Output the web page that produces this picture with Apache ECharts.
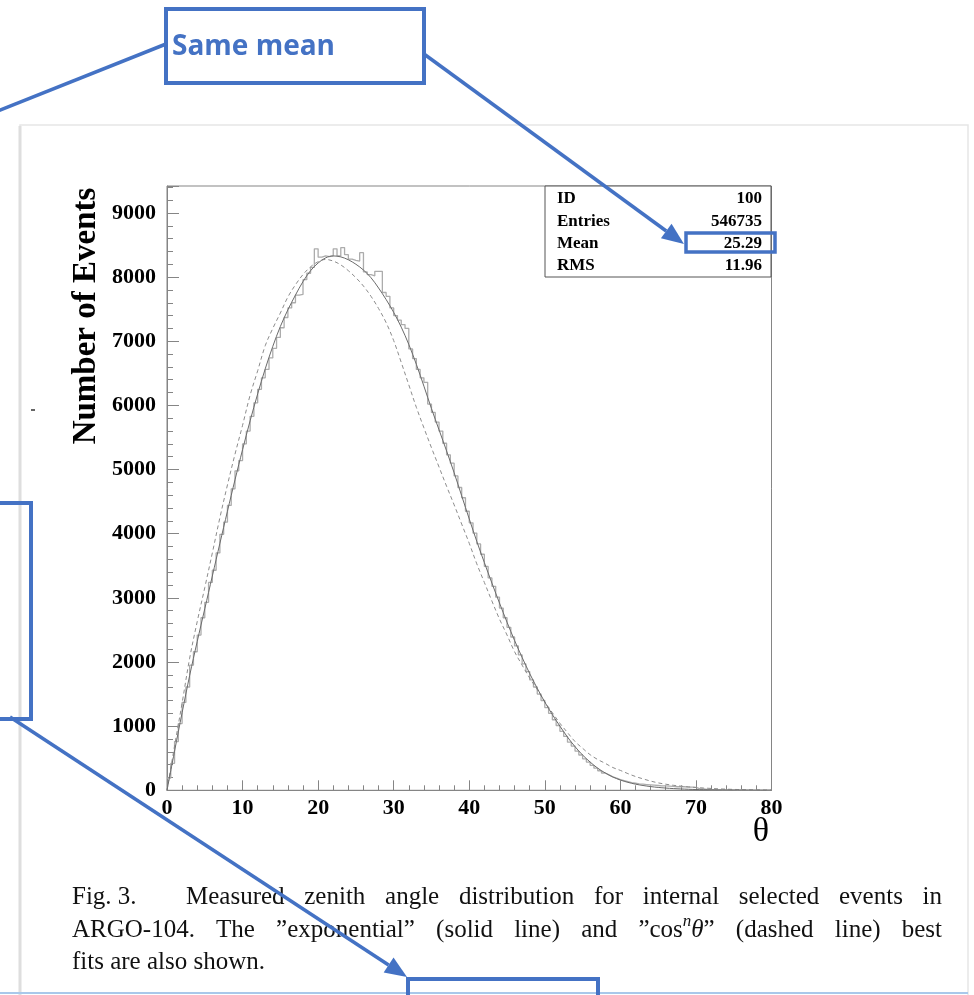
<!DOCTYPE html>
<html>
<head>
<meta charset="utf-8">
<title>Zenith angle distribution</title>
<script src="https://cdn.jsdelivr.net/npm/echarts@6/dist/echarts.min.js"></script>
<style>
  html, body { margin: 0; padding: 0; background: #ffffff; }
  #chart { width: 974px; height: 995px; }
</style>
</head>
<body>
<div id="chart"></div>
<script>
// Zenith angle histogram, 0.5 degree bins from 0 to 80 degrees
const binWidth = 0.5;
const histCounts = [
  190, 420, 760, 1040, 1370, 1610, 1950, 2160, 2420, 2690,
  2930, 3240, 3430, 3700, 3990, 4180, 4440, 4700, 4980, 5140,
  5400, 5600, 5830, 6040, 6250, 6430, 6560, 6740, 6890, 7060,
  7210, 7370, 7520, 7600, 7720, 7730, 7960, 8060, 8150, 8440,
  8310, 8330, 8320, 8330, 8440, 8330, 8460, 8350, 8280, 8260,
  8250, 8380, 8080, 8040, 8020, 8090, 8090, 7760, 7700, 7520,
  7400, 7330, 7260, 7200, 6880, 6730, 6560, 6430, 6360, 6020,
  5890, 5740, 5600, 5410, 5230, 5100, 4900, 4720, 4560, 4350,
  4170, 4010, 3840, 3680, 3490, 3310, 3180, 3010, 2840, 2690,
  2540, 2390, 2250, 2110, 1970, 1850, 1720, 1610, 1500, 1400,
  1290, 1200, 1100, 1010, 920, 840, 750, 690, 610, 550,
  490, 440, 390, 345, 305, 270, 240, 210, 190, 165,
  150, 135, 120, 110, 100, 95, 90, 85, 80, 75,
  70, 70, 65, 60, 55, 55, 55, 50, 50, 45,
  25, 20, 15, 12, 10, 10, 8, 8, 6, 6,
  5, 5, 4, 4, 3, 3, 3, 2, 2, 2
];

// Best fits sampled every degree: "exponential" (solid) and cos^n(theta) (dashed)
const fitStep = 1;
const expFit = [
  0, 610, 1210, 1790, 2320, 2830, 3340, 3850, 4350, 4840,
  5310, 5760, 6180, 6570, 6920, 7230, 7490, 7720, 7930, 8100,
  8220, 8300, 8330, 8315, 8270, 8200, 8110, 7990, 7830, 7650,
  7450, 7220, 6950, 6640, 6300, 5950, 5620, 5290, 4950, 4590,
  4230, 3880, 3550, 3230, 2920, 2620, 2335, 2070, 1820, 1590,
  1375, 1180, 1000, 830, 680, 550, 440, 345, 270, 208,
  160, 124, 96, 75, 58, 45, 35, 27, 21, 16,
  12, 9, 7, 5, 4, 3, 2, 2, 1, 1, 1
];
const cosFit = [
  0, 690, 1360, 2060, 2630, 3160, 3700, 4250, 4760, 5240,
  5690, 6160, 6540, 6930, 7200, 7440, 7690, 7880, 8040, 8160,
  8240, 8275, 8250, 8190, 8100, 7990, 7860, 7700, 7510, 7290,
  7010, 6670, 6320, 5970, 5650, 5340, 5040, 4740, 4450, 4150,
  3850, 3530, 3240, 2950, 2670, 2420, 2160, 1950, 1750, 1570,
  1380, 1210, 1045, 900, 760, 655, 555, 480, 420, 355,
  310, 260, 215, 178, 144, 116, 95, 78, 65, 54,
  43, 36, 29, 23, 18, 14, 11, 9, 7, 5, 4
];

// Statistics box
const statLabels = ['ID', 'Entries', 'Mean', 'RMS'];
const statValues = ['100', '546735', '25.29', '11.96'];

// Axes
const xRange = [0, 80];
const yRange = [0, 9420];
const xStep = 10;
const yStep = 1000;

const histData = histCounts.map((v, i) => [i * binWidth, v]);
histData.push([xRange[1], histCounts[histCounts.length - 1]]);
const expData = expFit.map((v, i) => [i * fitStep, v]);
const cosData = cosFit.map((v, i) => [i * fitStep, v]);

const SERIF = '"Liberation Serif", "Times New Roman", serif';
const BLUE = '#4472C4';
const AXIS = '#858585';

// ---- caption layout helpers (justified text) ----
const mctx = document.createElement('canvas').getContext('2d');
function textWidth(font, t) { mctx.font = font; return mctx.measureText(t).width; }
const capSize = 25;
const capFont = capSize + 'px ' + SERIF;
const capItalic = 'italic ' + capSize + 'px ' + SERIF;
const capSup = 'italic 17px ' + SERIF;
function runs(word) { return typeof word === 'string' ? [{ t: word, font: capFont, dy: 0 }] : word; }
function tokenWidth(tok) { return runs(tok).reduce((s, r) => s + textWidth(r.font, r.t), 0); }
function placeLine(tokens, left, right, y, justify, out) {
  const widths = tokens.map(tokenWidth);
  const total = widths.reduce((a, b) => a + b, 0);
  const gap = justify && tokens.length > 1 ? (right - left - total) / (tokens.length - 1)
                                           : textWidth(capFont, ' ');
  let x = left;
  tokens.forEach((tok, i) => {
    let rx = x;
    runs(tok).forEach(r => {
      out.push({
        type: 'text', x: rx, y: y + r.dy, z: 50,
        style: { text: r.t, font: r.font, fill: '#111', align: 'left', verticalAlign: 'middle',
                 textAlign: 'left', textVerticalAlign: 'middle' }
      });
      rx += textWidth(r.font, r.t);
    });
    x += widths[i] + gap;
  });
}

function arrowParts(x1, y1, x2, y2, len, half, width) {
  const dx = x2 - x1, dy = y2 - y1, d = Math.hypot(dx, dy);
  const ux = dx / d, uy = dy / d;
  const bx = x2 - ux * len, by = y2 - uy * len;
  return [
    { type: 'line', z: 100, shape: { x1, y1, x2: bx, y2: by },
      style: { stroke: BLUE, lineWidth: width } },
    { type: 'polygon', z: 100,
      shape: { points: [[x2, y2], [bx - uy * half, by + ux * half], [bx + uy * half, by - ux * half]] },
      style: { fill: BLUE } }
  ];
}

const graphics = [];
// page card
graphics.push({ type: 'rect', z: -10, shape: { x: 20, y: 125, width: 948, height: 900 },
  style: { fill: '#fff', stroke: '#e6e6e6', lineWidth: 1.5 } });
graphics.push({ type: 'line', z: -9, shape: { x1: 20, y1: 126, x2: 20, y2: 995 },
  style: { stroke: '#dedede', lineWidth: 3 } });
graphics.push({ type: 'line', z: 5, shape: { x1: 31, y1: 410, x2: 35, y2: 410 },
  style: { stroke: '#333', lineWidth: 1.5 } });

// y axis title and x axis symbol
graphics.push({ type: 'text', x: 86, y: 316, rotation: Math.PI / 2, z: 20,
  style: { text: 'Number of Events', font: 'bold 33px ' + SERIF, fill: '#000',
           align: 'center', verticalAlign: 'middle', textAlign: 'center', textVerticalAlign: 'middle' } });
graphics.push({ type: 'text', x: 761, y: 832, z: 20,
  style: { text: 'θ', font: '34px ' + SERIF, fill: '#000',
           align: 'center', verticalAlign: 'middle', textAlign: 'center', textVerticalAlign: 'middle' } });

// statistics box
graphics.push({ type: 'rect', z: 30, shape: { x: 545, y: 186, width: 226, height: 91 },
  style: { fill: '#fff', stroke: '#555', lineWidth: 1 } });
statLabels.forEach((lab, i) => {
  const y = 199 + i * 22.3;
  graphics.push({ type: 'text', x: 557, y, z: 31,
    style: { text: lab, font: 'bold 17px ' + SERIF, fill: '#000', align: 'left', verticalAlign: 'middle',
             textAlign: 'left', textVerticalAlign: 'middle' } });
  graphics.push({ type: 'text', x: 762, y, z: 31,
    style: { text: statValues[i], font: 'bold 17px ' + SERIF, fill: '#000', align: 'right', verticalAlign: 'middle',
             textAlign: 'right', textVerticalAlign: 'middle' } });
});

// caption
const capLine1 = ['Measured', 'zenith', 'angle', 'distribution', 'for', 'internal', 'selected', 'events', 'in'];
const capLine2 = ['ARGO-104.', 'The', '”exponential”', '(solid', 'line)', 'and',
  [{ t: '”cos', font: capFont, dy: 0 }, { t: 'n', font: capSup, dy: -8 },
   { t: 'θ', font: capItalic, dy: 0 }, { t: '”', font: capFont, dy: 0 }],
  '(dashed', 'line)', 'best'];
const capLine3 = ['fits', 'are', 'also', 'shown.'];
placeLine(['Fig.', '3.'], 72, 0, 897, false, graphics);
placeLine(capLine1, 186, 942, 897, true, graphics);
placeLine(capLine2, 72, 942, 930, true, graphics);
placeLine(capLine3, 72, 0, 962, false, graphics);

// annotation overlays
const boxStyle = { fill: 'none', stroke: BLUE, lineWidth: 4 };
graphics.push({ type: 'rect', z: 100, shape: { x: 166, y: 9, width: 258, height: 74 }, style: boxStyle });
graphics.push({ type: 'text', x: 172, y: 47, z: 101,
  style: { text: 'Same mean', font: 'bold 28px "Open Sans", sans-serif', fill: BLUE,
           align: 'left', verticalAlign: 'middle', textAlign: 'left', textVerticalAlign: 'middle' } });
graphics.push({ type: 'line', z: 100, shape: { x1: 166, y1: 44, x2: -10, y2: 114 },
  style: { stroke: BLUE, lineWidth: 3.5 } });
graphics.push(...arrowParts(424, 54, 684, 244, 22, 9, 3.5));
graphics.push({ type: 'rect', z: 100, shape: { x: 686, y: 233, width: 89, height: 19 },
  style: { fill: 'none', stroke: BLUE, lineWidth: 3.5 } });
graphics.push({ type: 'rect', z: 100, shape: { x: -10, y: 503, width: 41, height: 216 }, style: boxStyle });
graphics.push(...arrowParts(10, 717, 407, 977, 22, 9, 3.5));
graphics.push({ type: 'line', z: 99, shape: { x1: 0, y1: 993, x2: 968, y2: 993 },
  style: { stroke: '#a9c8ea', lineWidth: 2 } });
graphics.push({ type: 'rect', z: 100, shape: { x: 408, y: 979, width: 190, height: 40 }, style: boxStyle });

const chart = echarts.init(document.getElementById('chart'), null, { renderer: 'canvas' });
chart.setOption({
  animation: false,
  backgroundColor: '#ffffff',
  grid: { left: 167, top: 186, right: 202.5, bottom: 204.7, show: true,
          borderColor: AXIS, borderWidth: 1, backgroundColor: 'transparent' },
  xAxis: {
    type: 'value', min: xRange[0], max: xRange[1], interval: xStep,
    axisLine: { show: true, lineStyle: { color: AXIS, width: 1 } },
    axisTick: { show: true, inside: true, length: 10, lineStyle: { color: AXIS } },
    minorTick: { show: true, splitNumber: 5, length: 5, lineStyle: { color: AXIS } },
    splitLine: { show: false },
    axisLabel: { margin: 7, color: '#000', fontFamily: SERIF, fontWeight: 'bold', fontSize: 22 }
  },
  yAxis: {
    type: 'value', min: yRange[0], max: yRange[1], interval: yStep,
    axisLine: { show: true, lineStyle: { color: AXIS, width: 1 } },
    axisTick: { show: true, inside: true, length: 12, lineStyle: { color: AXIS } },
    minorTick: { show: true, splitNumber: 5, length: 6, lineStyle: { color: AXIS } },
    splitLine: { show: false },
    axisLabel: { margin: 11, color: '#000', fontFamily: SERIF, fontWeight: 'bold', fontSize: 22,
                 formatter: v => (v % yStep === 0 ? String(v) : '') }
  },
  series: [
    { name: 'Data', type: 'line', step: 'end', data: histData, symbol: 'none',
      lineStyle: { color: '#acacac', width: 1.3 }, z: 2 },
    { name: 'exponential', type: 'line', data: expData, smooth: 0.35, symbol: 'none',
      lineStyle: { color: '#6a6a6a', width: 1 }, z: 4 },
    { name: 'cos^n', type: 'line', data: cosData, smooth: 0.35, symbol: 'none',
      lineStyle: { color: '#8c8c8c', width: 1, type: [4, 3] }, z: 3 }
  ],
  graphic: { elements: graphics }
});
</script>
</body>
</html>
